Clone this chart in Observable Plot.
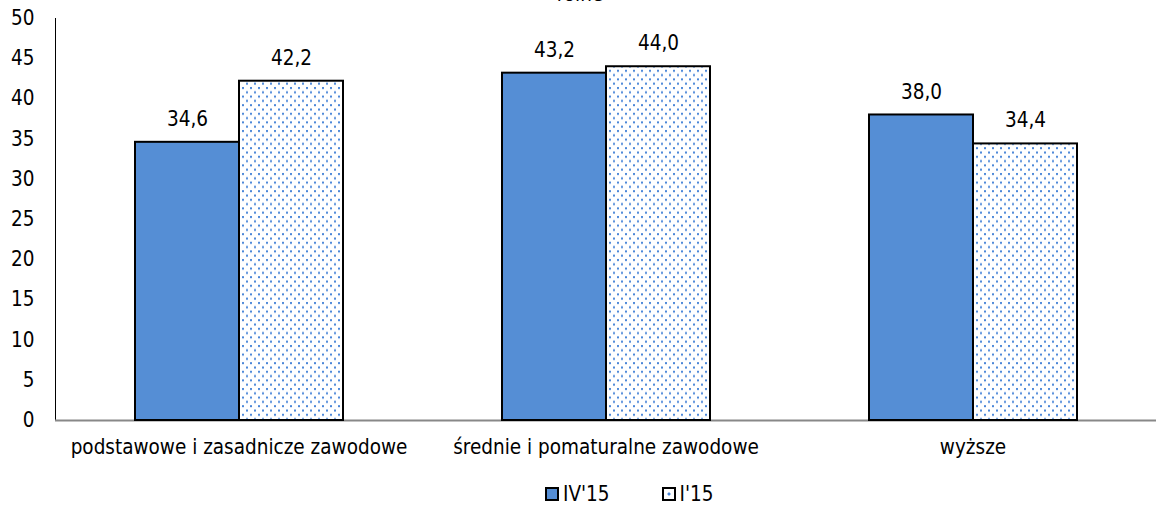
<!DOCTYPE html>
<html>
<head>
<meta charset="utf-8">
<script src="https://cdn.jsdelivr.net/npm/d3@7"></script>
<script src="https://cdn.jsdelivr.net/npm/@observablehq/plot@0.6"></script>
<style>
  html, body { margin: 0; padding: 0; background: #fff; }
  body { width: 1156px; height: 508px; overflow: hidden; position: relative;
         font-family: "DejaVu Sans Condensed", "DejaVu Sans", sans-serif; font-stretch: condensed; }
  #title { position: absolute; top: -18px; left: 0; width: 1160px; text-align: center; font-size: 20.5px; color: #000; }
  #legend { position: absolute; top: 482px; left: 545px; display: flex; gap: 52px; font-size: 20.5px; }
  .item { display: flex; align-items: center; gap: 4px; }
  .sw { width: 10px; height: 10px; border: 2px solid #000; }
</style>
</head>
<body>
<div id="title">rolne</div>
<div id="chart"></div>
<div id="legend"></div>
<script>
const categories = ["podstawowe i zasadnicze zawodowe", "średnie i pomaturalne zawodowe", "wyższe"];
const seriesNames = ["IV'15", "I'15"];
const valuesIV = [34.6, 43.2, 38.0];
const valuesI = [42.2, 44.0, 34.4];
const yTicks = [0, 5, 10, 15, 20, 25, 30, 35, 40, 45, 50];

const blue = "#558ED5";
const dotBlue = "#4A86D8";
const data = [];
categories.forEach((c, i) => {
  data.push({category: c, series: seriesNames[0], value: valuesIV[i]});
  data.push({category: c, series: seriesNames[1], value: valuesI[i]});
});
const fmt = v => v.toFixed(1).replace(".", ",");
const font = "\"DejaVu Sans Condensed\", \"DejaVu Sans\", sans-serif";

const chart = Plot.plot({
  width: 1156,
  height: 470,
  marginLeft: 54,
  marginRight: 0,
  marginTop: 18,
  marginBottom: 50,
  style: {fontFamily: font, fontSize: "20.5px", color: "#000", background: "#fff", fontStretch: "condensed"},
  fx: {domain: categories, padding: 0},
  x: {domain: seriesNames, paddingInner: 0, paddingOuter: 0.757, axis: null},
  y: {domain: [0, 50]},
  marks: [
    Plot.axisY({ticks: yTicks, tickSize: 0, tickPadding: 21, label: null, fontSize: 20.5}),
    Plot.axisFx({anchor: "bottom", tickSize: 0, tickPadding: 19, label: null, fontSize: 20.5}),
    Plot.frame({anchor: "left", facetAnchor: "left", stroke: "#000", strokeWidth: 1}),
    Plot.ruleY([0], {stroke: "#888", strokeWidth: 2}),
    Plot.barY(data.filter(d => d.series === seriesNames[0]), {fx: "category", x: "series", y: "value", fill: blue, stroke: "#000", strokeWidth: 2, inset: 0}),
    Plot.barY(data.filter(d => d.series === seriesNames[1]), {fx: "category", x: "series", y: "value", fill: "url(#dots)", stroke: "#000", strokeWidth: 2, inset: 0}),
    Plot.text(data, {fx: "category", x: "series", y: "value", text: d => fmt(d.value), dy: -23, fontSize: 20.5, fill: "#000"})
  ]
});

const ns = "http://www.w3.org/2000/svg";
const defs = document.createElementNS(ns, "defs");
defs.innerHTML = `<pattern id="dots" patternUnits="userSpaceOnUse" width="8" height="8.6">
  <rect width="8" height="8.6" fill="#fff"/>
  <rect x="1" y="1" width="2" height="2" fill="${dotBlue}"/>
  <rect x="5" y="5.3" width="2" height="2" fill="${dotBlue}"/>
</pattern>`;
chart.insertBefore(defs, chart.firstChild);
document.getElementById("chart").appendChild(chart);

const legend = document.getElementById("legend");
seriesNames.forEach((s, i) => {
  const it = document.createElement("div");
  it.className = "item";
  const sw = document.createElement("div");
  sw.className = "sw";
  if (i === 0) sw.style.background = blue;
  else sw.style.background = `radial-gradient(circle, ${dotBlue} 1.3px, #fff 1.8px)`;
  const t = document.createElement("span");
  t.textContent = s;
  it.appendChild(sw); it.appendChild(t);
  legend.appendChild(it);
});
</script>
</body>
</html>
